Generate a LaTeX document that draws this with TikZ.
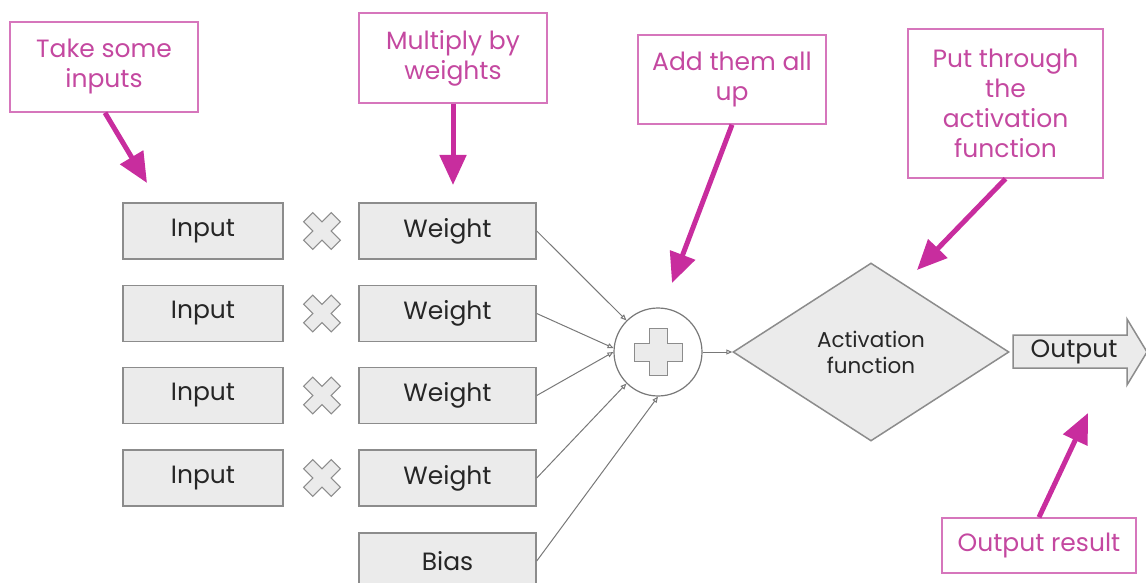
\documentclass[tikz,border=0pt]{standalone}
\usepackage{fontspec}
\setmainfont{Poppins}
\usetikzlibrary{arrows.meta,shapes.geometric}
\definecolor{callpink}{RGB}{200,45,158}
\definecolor{calltext}{RGB}{196,72,160}
\definecolor{callline}{RGB}{214,118,188}
\definecolor{boxfill}{RGB}{235,235,235}
\definecolor{boxline}{RGB}{140,140,140}
\definecolor{wire}{RGB}{120,120,120}

\begin{document}
\begin{tikzpicture}[x=1pt, y=-1pt, every node/.style={inner sep=0pt, font=\fontsize{25}{30}\selectfont},
  greybox/.style={draw=boxline, line width=1.5pt, fill=boxfill, minimum height=56pt, text=black!85},
  callout/.style={draw=callline, line width=1.5pt, align=center, text=calltext, font=\fontsize{25}{30}\selectfont},
  pinkarrow/.style={draw=callpink, line width=5pt, -{Triangle[length=30pt,width=26pt]}},
  wirearrow/.style={draw=wire, line width=1pt, -{Triangle[open,length=6pt,width=5pt]}}]
\useasboundingbox (0,0) rectangle (1146,583);

% inputs, weights and the crosses between them
\foreach \i/\y in {1/231,2/313.5,3/395.5,4/478} {
  \node[greybox, minimum width=160pt] (in\i) at (203,\y) {Input};
  \node[greybox, minimum width=177pt] (w\i) at (447.5,\y) {Weight};
  \draw[boxline, fill=boxfill, line width=1pt, shift={(322,\y)}, rotate=45]
    (-6.5,-19.5) -- (6.5,-19.5) -- (6.5,-6.5) -- (19.5,-6.5) -- (19.5,6.5) -- (6.5,6.5)
    -- (6.5,19.5) -- (-6.5,19.5) -- (-6.5,6.5) -- (-19.5,6.5) -- (-19.5,-6.5) -- (-6.5,-6.5) -- cycle;
}
\node[greybox, minimum width=177pt] (bias) at (447.5,561) {Bias};

% sum and activation
\node[circle, draw=wire, line width=1.2pt, minimum size=88pt] (sum) at (658,352) {};
\draw[boxline, fill=boxfill, line width=1pt, shift={(sum.center)}]
  (-9,-23.5) -- (9,-23.5) -- (9,-9) -- (24,-9) -- (24,9) -- (9,9)
  -- (9,23.5) -- (-9,23.5) -- (-9,9) -- (-24,9) -- (-24,-9) -- (-9,-9) -- cycle;
\node[diamond, draw=boxline, line width=1.5pt, fill=boxfill, minimum width=276pt, minimum height=178pt,
  align=center, text=black!85, font=\fontsize{21.5}{26}\selectfont] (act) at (871,352) {Activation\\function};

% output arrow
\draw[boxline, fill=boxfill, line width=1.5pt] (1013,335) -- (1127,335) -- (1127,319) -- (1147,352)
  -- (1127,385) -- (1127,368) -- (1013,368) -- cycle;
\node[text=black!85] (out) at (1074,352) {Output};

\draw[wirearrow] (w1.east) -- (sum.north west);
\draw[wirearrow] (w2.east) -- (sum.175);
\draw[wirearrow] (w3.east) -- (sum.west);
\draw[wirearrow] (w4.east) -- (sum.south west);
\draw[wirearrow] (bias.east) -- (sum.south);
\draw[wirearrow] (sum.east) -- (act.west);

% callouts
\node[callout, minimum width=188pt, minimum height=90pt] (take) at (104,67) {Take some\\inputs};
\node[callout, minimum width=188pt, minimum height=90pt] (mult) at (453,58) {Multiply by\\weights};
\node[callout, minimum width=188pt, minimum height=89pt] (add) at (732,79.5) {Add them all\\up};
\node[callout, minimum width=195pt, minimum height=149pt] (put) at (1005.5,103.5) {Put through\\the\\activation\\function};
\node[callout, minimum width=194pt, minimum height=55pt] (res) at (1039,545.5) {Output result};

\coordinate (taketip) at (147,183);
\coordinate (multtip) at (453,185);
\coordinate (addtip) at (672,283);
\coordinate (puttip) at (917,270);
\coordinate (restip) at (1088,413);
\draw[pinkarrow] (take.south) ++(1,0) -- (taketip);
\draw[pinkarrow] (mult.south) -- (multtip);
\draw[pinkarrow] (add.south) -- (addtip);
\draw[pinkarrow] (put.south) -- (puttip);
\draw[pinkarrow] (res.north) -- (restip);
\end{tikzpicture}
\end{document}
